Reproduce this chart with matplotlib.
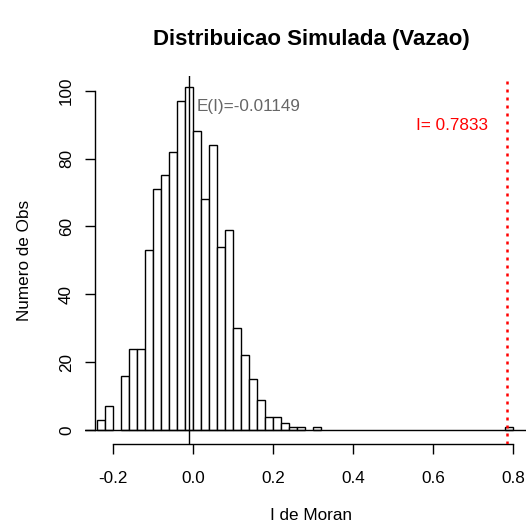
import numpy as np
import matplotlib
matplotlib.use('Agg')
import matplotlib.pyplot as plt

plt.rcParams['font.family'] = ['Liberation Sans', 'DejaVu Sans']

# histogram of the simulated Moran's I (bins of width 0.02, starting at -0.24)
BIN_START = -0.24
BIN_WIDTH = 0.02
COUNTS = [3, 7, 0, 16, 24, 24, 53, 71, 75, 82, 97, 101, 88, 68, 84, 54, 59,
          30, 22, 15, 9, 4, 4, 2, 1, 1, 0, 1,
          0, 0, 0, 0, 0, 0, 0, 0, 0, 0, 0, 0, 0, 0, 0, 0, 0, 0, 0, 0, 0, 0, 0,
          1]
EXPECTED_I = -0.01149
OBSERVED_I = 0.7833
X_TICKS = [-0.2, 0.0, 0.2, 0.4, 0.6, 0.8]
Y_TICKS = [0, 20, 40, 60, 80, 100]

W, H = 526, 524
fig = plt.figure(figsize=(W / 100, H / 100), dpi=100)

# plot region in pixels (extends a bit past the right edge, as in the crop)
left_px, right_px, top_px, bottom_px = 85, 538, 76, 444
ax = fig.add_axes([left_px / W, 1 - bottom_px / H,
                   (right_px - left_px) / W, (bottom_px - top_px) / H])
ax.set_xlim(-0.2708, 0.8618)
ax.set_ylim(-4.07, 104.3)

lefts = BIN_START + BIN_WIDTH * np.arange(len(COUNTS))
counts = np.array(COUNTS)
keep = counts > 0
ax.bar(lefts[keep], counts[keep], width=BIN_WIDTH, align='edge',
       color='white', edgecolor='black', linewidth=1.0, zorder=2)

ax.axhline(0, color='black', linewidth=1.0, zorder=3)
ax.axvline(EXPECTED_I, color='black', linewidth=1.0, zorder=3)
ax.axvline(OBSERVED_I, color='red', linewidth=1.8,
           linestyle=(0, (1.2, 2.0)), zorder=4)

ax.text(0.0085, 95.2, 'E(I)=%.5f' % EXPECTED_I, color='#666666',
        fontsize=12.3, ha='left', va='center')
ax.text(0.6468, 89.6, 'I= %.4f' % OBSERVED_I, color='red',
        fontsize=12.3, ha='center', va='center')

# R style axes
for s in ['top', 'right']:
    ax.spines[s].set_visible(False)
ax.spines['left'].set_position(('data', -0.2458))
ax.spines['left'].set_bounds(0, 100)
ax.spines['bottom'].set_bounds(-0.2, 0.8)
ax.spines['left'].set_linewidth(1.0)
ax.spines['bottom'].set_linewidth(1.0)

ax.set_xticks(X_TICKS)
ax.set_xticklabels(['%.1f' % t for t in X_TICKS])
ax.set_yticks(Y_TICKS)
ax.set_yticklabels([str(t) for t in Y_TICKS], rotation=90, va='center')
ax.tick_params(axis='both', direction='out', length=7.2, width=1.0,
               labelsize=12.3, colors='black')
ax.tick_params(axis='x', pad=12)
ax.tick_params(axis='y', pad=8)

fig.text(311.5 / W, 1 - 40 / H, 'Distribuicao Simulada (Vazao)',
         fontsize=16, fontweight='bold', ha='center', va='center')
fig.text(311.5 / W, 1 - 515 / H, 'I de Moran', fontsize=12.3,
         ha='center', va='center')
fig.text(25 / W, 1 - 260 / H, 'Numero de Obs', fontsize=12.3,
         ha='center', va='center', rotation=90)

fig.savefig('out.png', dpi=100)
